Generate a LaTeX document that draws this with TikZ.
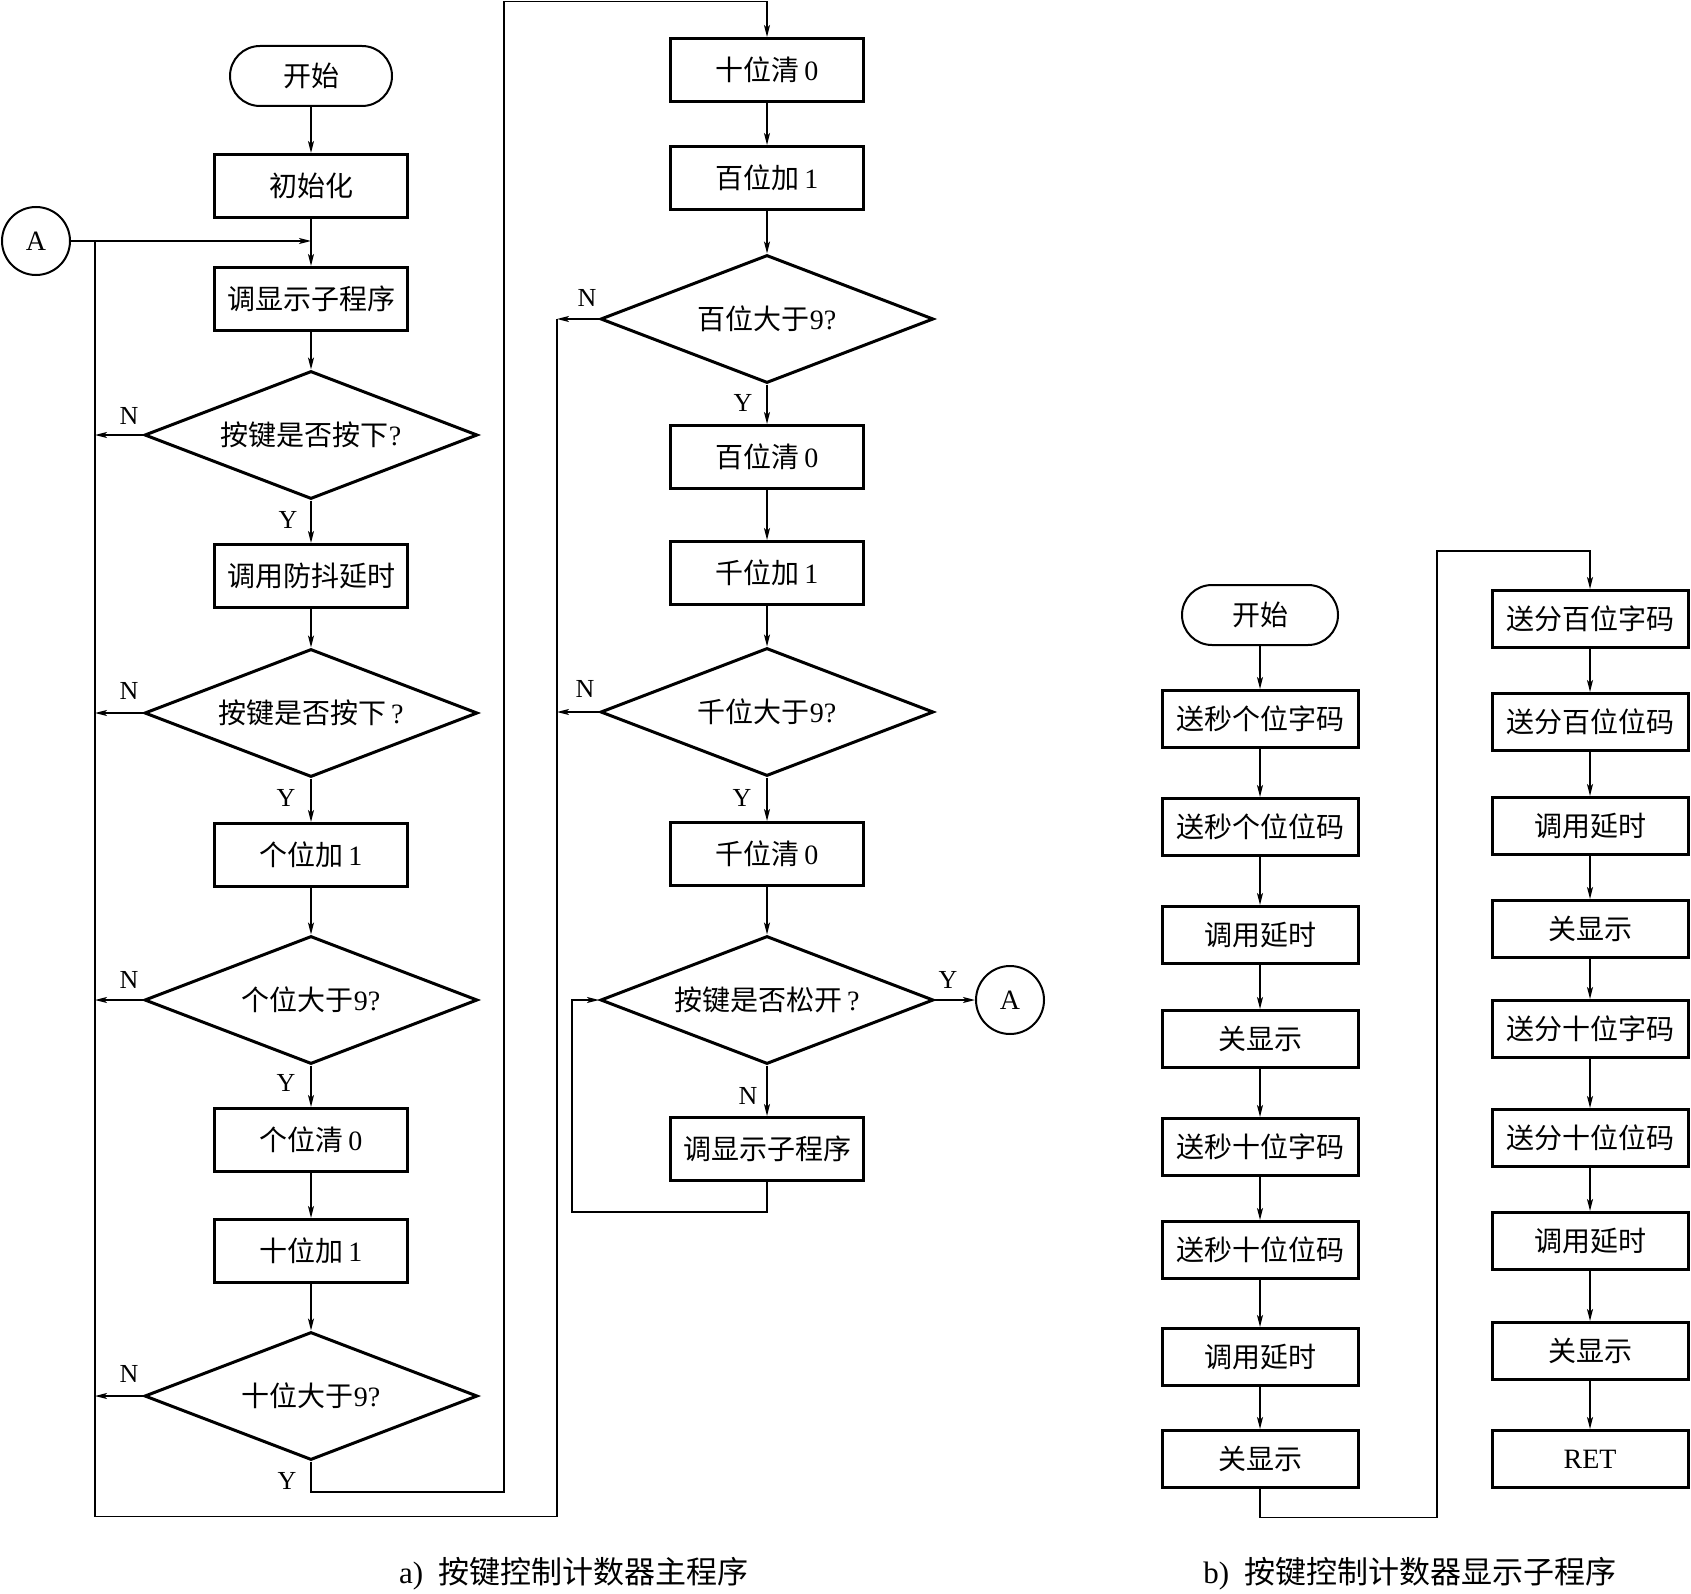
\documentclass[tikz,border=0pt]{standalone}
\usepackage{fontspec}
\setmainfont{Liberation Serif}
\newfontfamily\cjk{Noto Sans CJK SC}
\usetikzlibrary{arrows.meta,shapes.geometric,shapes.misc}
\newcommand\zh[1]{{\cjk #1}}
\begin{document}
\begin{tikzpicture}[x=1pt,y=-1pt,
  every node/.style={font=\fontsize{28}{30}\selectfont},
  box/.style={draw, line width=3pt, minimum width=193pt, minimum height=63pt, inner sep=0pt},
  bbox/.style={draw, line width=3pt, minimum width=196pt, minimum height=57pt, inner sep=0pt},
  dia/.style={draw, diamond, line width=3pt, aspect=2.6, minimum width=333pt, minimum height=128pt, inner sep=0pt},
  term/.style={draw, rounded rectangle, line width=2pt, minimum width=162pt, minimum height=60pt, inner sep=0pt},
  conn/.style={draw, circle, line width=2pt, minimum size=68pt, inner sep=0pt},
  ln/.style={line width=1.6pt},
  arr/.style={ln, -{Stealth[length=12pt,width=6pt,inset=3pt]}},
  lab/.style={font=\fontsize{26}{28}\selectfont, inner sep=0pt},
  captext/.style={font=\fontsize{31}{33}\selectfont, inner sep=0pt}
]
\useasboundingbox (0,0) rectangle (1691,1594);
\fill[white] (0,0) rectangle (1691,1594);

% ---------- a) left column ----------
\node[term] (s1) at (311,76) {\zh{开始}};
\node[box] (a1) at (311,186) {\zh{初始化}};
\node[box] (a2) at (311,299) {\zh{调显示子程序}};
\node[dia] (d1) at (311,435) {\zh{按键是否按下}?};
\node[box] (a3) at (311,576) {\zh{调用防抖延时}};
\node[dia] (d2) at (311,713) {\zh{按键是否按下}\,?};
\node[box] (a4) at (311,855) {\zh{个位加}\,1};
\node[dia] (d3) at (311,1000) {\zh{个位大于}9?};
\node[box] (a5) at (311,1140) {\zh{个位清}\,0};
\node[box] (a6) at (311,1251) {\zh{十位加}\,1};
\node[dia] (d4) at (311,1396) {\zh{十位大于}9?};
\node[conn] (A1) at (36,241) {A};
\coordinate (j1) at (311,241);

% ---------- a) right column ----------
\node[box] (r1) at (767,70) {\zh{十位清}\,0};
\node[box] (r2) at (767,178) {\zh{百位加}\,1};
\node[dia] (d5) at (767,319) {\zh{百位大于}9?};
\node[box] (r3) at (767,457) {\zh{百位清}\,0};
\node[box] (r4) at (767,573) {\zh{千位加}\,1};
\node[dia] (d6) at (767,712) {\zh{千位大于}9?};
\node[box] (r5) at (767,854) {\zh{千位清}\,0};
\node[dia] (d7) at (767,1000) {\zh{按键是否松开}\,?};
\node[box] (r6) at (767,1149) {\zh{调显示子程序}};
\node[conn] (A2) at (1010,1000) {A};

% ---------- b) ----------
\node[term, minimum width=156pt] (s2) at (1260,615) {\zh{开始}};
\node[bbox] (p1) at (1260,719) {\zh{送秒个位字码}};
\node[bbox] (p2) at (1260,827) {\zh{送秒个位位码}};
\node[bbox] (p3) at (1260,935) {\zh{调用延时}};
\node[bbox] (p4) at (1260,1039) {\zh{关显示}};
\node[bbox] (p5) at (1260,1147) {\zh{送秒十位字码}};
\node[bbox] (p6) at (1260,1250) {\zh{送秒十位位码}};
\node[bbox] (p7) at (1260,1357) {\zh{调用延时}};
\node[bbox] (p8) at (1260,1459) {\zh{关显示}};

\node[bbox] (q1) at (1590,619) {\zh{送分百位字码}};
\node[bbox] (q2) at (1590,722) {\zh{送分百位位码}};
\node[bbox] (q3) at (1590,826) {\zh{调用延时}};
\node[bbox] (q4) at (1590,929) {\zh{关显示}};
\node[bbox] (q5) at (1590,1029) {\zh{送分十位字码}};
\node[bbox] (q6) at (1590,1138) {\zh{送分十位位码}};
\node[bbox] (q7) at (1590,1241) {\zh{调用延时}};
\node[bbox] (q8) at (1590,1351) {\zh{关显示}};
\node[bbox] (q9) at (1590,1459) {RET};

% ---------- connectors a) left ----------
\draw[arr] (s1) -- (a1);
\draw[arr] (a1) -- (a2);
\draw[arr] (A1) -- (j1);
\draw[arr] (a2) -- (d1);
\draw[arr] (d1) -- (a3);
\draw[arr] (a3) -- (d2);
\draw[arr] (d2) -- (a4);
\draw[arr] (a4) -- (d3);
\draw[arr] (d3) -- (a5);
\draw[arr] (a5) -- (a6);
\draw[arr] (a6) -- (d4);

\coordinate (L1) at (95,241);
\coordinate (L2) at (95,1516.5);
\coordinate (L3) at (557,1516.5);
\coordinate (L4) at (557,319);
\draw[ln] (L1) -- (L2) -- (L3) -- (L4);
\draw[arr] (d1.west) -- (d1.west -| L1);
\draw[arr] (d2.west) -- (d2.west -| L1);
\draw[arr] (d3.west) -- (d3.west -| L1);
\draw[arr] (d4.west) -- (d4.west -| L1);

\coordinate (T1) at (504,1492);
\coordinate (T2) at (504,1.5);
\draw[arr] (d4.south) |- (T1) -- (T2) -| (r1.north);

% ---------- connectors a) right ----------
\draw[arr] (r1) -- (r2);
\draw[arr] (r2) -- (d5);
\draw[arr] (d5) -- (r3);
\draw[arr] (r3) -- (r4);
\draw[arr] (r4) -- (d6);
\draw[arr] (d6) -- (r5);
\draw[arr] (r5) -- (d7);
\draw[arr] (d7) -- (r6);
\draw[arr] (d5.west) -- (d5.west -| L3);
\draw[arr] (d6.west) -- (d6.west -| L3);
\coordinate (K1) at (572,1212);
\draw[arr] (r6.south) |- (K1) |- (d7.west);
\draw[arr] (d7.east) -- (A2);

% ---------- connectors b) ----------
\draw[arr] (s2) -- (p1);
\draw[arr] (p1) -- (p2);
\draw[arr] (p2) -- (p3);
\draw[arr] (p3) -- (p4);
\draw[arr] (p4) -- (p5);
\draw[arr] (p5) -- (p6);
\draw[arr] (p6) -- (p7);
\draw[arr] (p7) -- (p8);
\coordinate (U1) at (1437,1517.5);
\coordinate (U2) at (1437,551);
\draw[arr] (p8.south) |- (U1) -- (U2) -| (q1.north);
\draw[arr] (q1) -- (q2);
\draw[arr] (q2) -- (q3);
\draw[arr] (q3) -- (q4);
\draw[arr] (q4) -- (q5);
\draw[arr] (q5) -- (q6);
\draw[arr] (q6) -- (q7);
\draw[arr] (q7) -- (q8);
\draw[arr] (q8) -- (q9);

% ---------- labels ----------
\node[lab] (n1) at (129,416) {N};
\node[lab] (y1) at (288,520) {Y};
\node[lab] (n2) at (129,691) {N};
\node[lab] (y2) at (286,798) {Y};
\node[lab] (n3) at (129,980) {N};
\node[lab] (y3) at (286,1083) {Y};
\node[lab] (n4) at (129,1374) {N};
\node[lab] (y4) at (287,1481) {Y};
\node[lab] (n5) at (587,298) {N};
\node[lab] (y5) at (743,403) {Y};
\node[lab] (n6) at (585,689) {N};
\node[lab] (y6) at (742,798) {Y};
\node[lab] (n7) at (748,1096) {N};
\node[lab] (y7) at (948,980) {Y};

% ---------- captions ----------
\node[captext] (ca) at (574,1574) {a)\enspace\zh{按键控制计数器主程序}};
\node[captext] (cb) at (1410,1574) {b)\enspace\zh{按键控制计数器显示子程序}};
\end{tikzpicture}
\end{document}
